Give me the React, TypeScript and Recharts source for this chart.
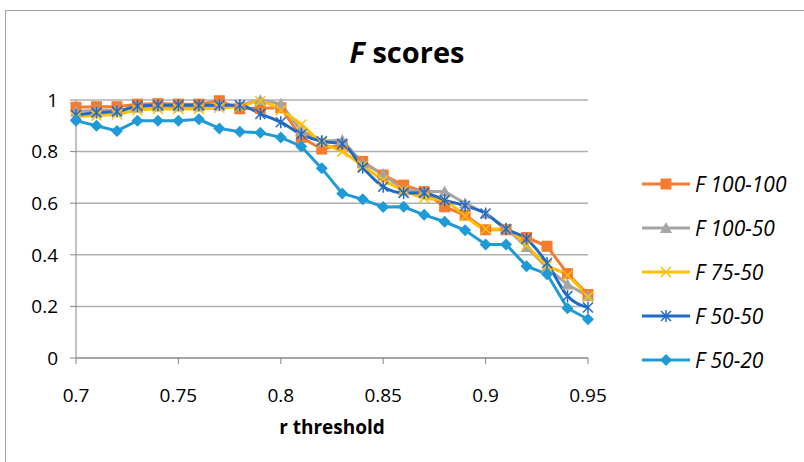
import React from "react";
import { CartesianGrid, Label, Line, LineChart, XAxis, YAxis } from "recharts";

const thresholds = [
  0.7, 0.71, 0.72, 0.73, 0.74, 0.75, 0.76, 0.77, 0.78, 0.79, 0.8, 0.81, 0.82, 0.83, 0.84, 0.85, 0.86,
  0.87, 0.88, 0.89, 0.9, 0.91, 0.92, 0.93, 0.94, 0.95,
];

const f100_100 = [
  0.972, 0.974, 0.974, 0.984, 0.986, 0.984, 0.984, 0.997, 0.966, 0.968, 0.97, 0.855, 0.81, 0.826,
  0.762, 0.709, 0.67, 0.645, 0.586, 0.554, 0.497, 0.497, 0.467, 0.433, 0.327, 0.246,
];
const f100_50 = [
  0.955, 0.96, 0.96, 0.97, 0.975, 0.975, 0.975, 0.98, 0.98, 1.0, 0.985, 0.88, 0.84, 0.845, 0.755,
  0.713, 0.65, 0.645, 0.645, 0.6, 0.56, 0.503, 0.43, 0.35, 0.285, 0.24,
];
const f75_50 = [
  0.935, 0.94, 0.945, 0.96, 0.965, 0.965, 0.965, 0.97, 0.975, 0.995, 0.96, 0.905, 0.835, 0.8, 0.745,
  0.69, 0.65, 0.62, 0.61, 0.55, 0.5, 0.5, 0.435, 0.36, 0.32, 0.237,
];
const f50_50 = [
  0.942, 0.951, 0.955, 0.977, 0.98, 0.98, 0.98, 0.98, 0.98, 0.946, 0.914, 0.867, 0.84, 0.83, 0.738,
  0.664, 0.64, 0.64, 0.612, 0.59, 0.56, 0.5, 0.462, 0.368, 0.24, 0.196,
];
const f50_20 = [
  0.92, 0.9, 0.88, 0.92, 0.92, 0.92, 0.925, 0.89, 0.877, 0.873, 0.855, 0.82, 0.735, 0.638, 0.615,
  0.585, 0.586, 0.555, 0.528, 0.495, 0.44, 0.44, 0.356, 0.325, 0.193, 0.15,
];

const xTicks = [0.7, 0.75, 0.8, 0.85, 0.9, 0.95];
const yTicks = [0, 0.2, 0.4, 0.6, 0.8, 1];

type Shape = "square" | "triangle" | "x" | "star" | "diamond";

const series: { key: string; name: string; color: string; shape: Shape; smooth: boolean }[] = [
  { key: "f100_100", name: "F 100-100", color: "#F47C30", shape: "square", smooth: false },
  { key: "f100_50", name: "F 100-50", color: "#A5A5A5", shape: "triangle", smooth: false },
  { key: "f75_50", name: "F 75-50", color: "#FFC000", shape: "x", smooth: true },
  { key: "f50_50", name: "F 50-50", color: "#1F6BC5", shape: "star", smooth: true },
  { key: "f50_20", name: "F 50-20", color: "#1E9BD7", shape: "diamond", smooth: false },
];

const data = thresholds.map((x, i) => ({
  x,
  f100_100: f100_100[i],
  f100_50: f100_50[i],
  f75_50: f75_50[i],
  f50_50: f50_50[i],
  f50_20: f50_20[i],
}));

function Marker({ cx, cy, shape, color }: { cx: number; cy: number; shape: Shape; color: string }) {
  switch (shape) {
    case "square":
      return <rect x={cx - 5.5} y={cy - 5.5} width={11} height={11} fill={color} />;
    case "triangle":
      return <polygon points={`${cx},${cy - 6} ${cx + 6},${cy + 5} ${cx - 6},${cy + 5}`} fill={color} />;
    case "diamond":
      return <polygon points={`${cx},${cy - 6} ${cx + 6},${cy} ${cx},${cy + 6} ${cx - 6},${cy}`} fill={color} />;
    case "x":
      return (
        <g stroke={color} strokeWidth={1.5}>
          <line x1={cx - 5} y1={cy - 5} x2={cx + 5} y2={cy + 5} />
          <line x1={cx - 5} y1={cy + 5} x2={cx + 5} y2={cy - 5} />
        </g>
      );
    default:
      return (
        <g stroke={color} strokeWidth={1.5}>
          <line x1={cx - 5} y1={cy - 5} x2={cx + 5} y2={cy + 5} />
          <line x1={cx - 5} y1={cy + 5} x2={cx + 5} y2={cy - 5} />
          <line x1={cx} y1={cy - 6} x2={cx} y2={cy + 6} />
        </g>
      );
  }
}

function ChartLegend() {
  return (
    <div style={{ position: "absolute", left: 642, top: 162 }}>
      {series.map((s) => (
        <div key={s.key} style={{ height: 44, display: "flex", alignItems: "center" }}>
          <svg width={48} height={16}>
            <line x1={0} y1={8} x2={48} y2={8} stroke={s.color} strokeWidth={3} />
            <Marker cx={24} cy={8} shape={s.shape} color={s.color} />
          </svg>
          <span style={{ marginLeft: 5, fontStyle: "italic", fontSize: 21, color: "#000" }}>{s.name}</span>
        </div>
      ))}
    </div>
  );
}

export default function App() {
  return (
    <div
      style={{
        position: "relative",
        width: 804,
        height: 462,
        overflow: "hidden",
        background: "#fff",
        fontFamily: "'Open Sans', sans-serif",
      }}
    >
      <style>{`body { margin: 0; }`}</style>
      <div
        style={{
          position: "absolute",
          left: 5,
          top: 10,
          width: 900,
          height: 500,
          border: "1px solid #A6A6A6",
        }}
      />
      <div
        style={{
          position: "absolute",
          left: 0,
          top: 37,
          width: 814,
          textAlign: "center",
          fontSize: 29,
          fontWeight: 700,
          lineHeight: 1,
        }}
      >
        <i>F</i> scores
      </div>
      <LineChart
        width={804}
        height={462}
        data={data}
        margin={{ top: 100, right: 216, left: 16, bottom: 24 }}
        style={{ position: "absolute", left: 0, top: 0 }}
      >
        <CartesianGrid vertical={false} stroke="#B0B0B0" strokeWidth={1.5} />
        <XAxis
          dataKey="x"
          type="number"
          domain={[0.7, 0.95]}
          ticks={xTicks}
          height={80}
          tickSize={6}
          tickMargin={25}
          stroke="#868686"
          tick={{ fill: "#000", fontSize: 19 }}
        >
          <Label value="r threshold" position="insideBottom" offset={4} fill="#000" fontSize={19} fontWeight={700} />
        </XAxis>
        <YAxis
          domain={[0, 1]}
          ticks={yTicks}
          width={60}
          tickSize={6}
          tickMargin={12}
          stroke="#868686"
          tick={{ fill: "#000", fontSize: 19 }}
        />
        {series.map((s) => (
          <Line
            key={s.key}
            dataKey={s.key}
            name={s.name}
            type={s.smooth ? "monotone" : "linear"}
            stroke={s.color}
            strokeWidth={3}
            isAnimationActive={false}
            dot={(p: any) => (
              <Marker key={`${s.key}-${p.index}`} cx={p.cx} cy={p.cy} shape={s.shape} color={s.color} />
            )}
            activeDot={false}
          />
        ))}
      </LineChart>
      <ChartLegend />
    </div>
  );
}
